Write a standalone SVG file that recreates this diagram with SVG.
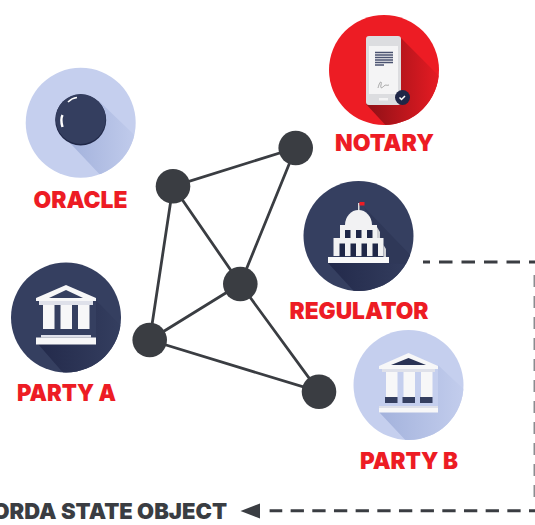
<svg xmlns="http://www.w3.org/2000/svg" width="535" height="525" viewBox="0 0 535 525">
<style>
.lbl{font-family:"Inter","Liberation Sans",sans-serif;font-weight:900;font-size:23px;fill:#ed1c24;text-anchor:middle}
.edge{stroke:#3a3d42;stroke-width:2.800;fill:none}
.dot{fill:#3a3d42}
.dh{stroke:#3a3d42;stroke-width:3;fill:none}
.dv{stroke:#8a8c90;stroke-width:3;fill:none;stroke-dasharray:12 9}
.wh{fill:#f7f7f8}
</style>
<defs>
<linearGradient id="sR" x1="0" y1="0" x2="1" y2="0"><stop offset="0" stop-color="#8e1016"/><stop offset="1" stop-color="#ed1c24"/></linearGradient>
<linearGradient id="sL" x1="0" y1="0" x2="1" y2="0"><stop offset="0" stop-color="#a3b2dc"/><stop offset="1" stop-color="#c5cfee"/></linearGradient>
<linearGradient id="sD" x1="0" y1="0" x2="1" y2="0"><stop offset="0" stop-color="#232a4b"/><stop offset="1" stop-color="#353f60"/></linearGradient>
<clipPath id="cN"><circle cx="384" cy="70" r="55"/></clipPath>
<clipPath id="cO"><circle cx="80.700" cy="122.700" r="55"/></clipPath>
<clipPath id="cR"><circle cx="358.500" cy="236" r="55"/></clipPath>
<clipPath id="cA"><circle cx="66" cy="317.500" r="55"/></clipPath>
<clipPath id="cB"><circle cx="408.500" cy="385" r="55"/></clipPath>
</defs>

<g id="connectors">
<path class="edge" d="M173 186.300L295.700 148M295.700 148L240.300 284M173 186.300L240.300 284M173 186.300L149.700 340M240.300 284L149.700 340M149.700 340L319 391.700M240.300 284L319 391.700"/>
<path class="dh" stroke-dasharray="13.500 9" stroke-dashoffset="6.500" d="M423 262H535"/>
<path class="dv" d="M535 275V505"/>
<path class="dh" stroke-dasharray="13.300 8.370" stroke-dashoffset="7.300" d="M535 510.700H269.600"/>
<path fill="#3a3d42" d="M240.500 511L260 503.500V518.500Z"/>
</g>

<g id="net-1"><circle class="dot" cx="173" cy="186.300" r="17.300"/></g>
<g id="net-2"><circle class="dot" cx="295.700" cy="148" r="17.300"/></g>
<g id="net-3"><circle class="dot" cx="240.300" cy="284" r="17.300"/></g>
<g id="net-4"><circle class="dot" cx="149.700" cy="340" r="17.300"/></g>
<g id="net-5"><circle class="dot" cx="319" cy="391.700" r="17.300"/></g>

<g id="notary">
<circle cx="384" cy="70" r="55" fill="#ed1c24"/>
<path clip-path="url(#cN)" fill="url(#sR)" d="M401 38L445 82V130H390L366 104Z"/>
<rect x="366" y="36" width="35" height="69" rx="3" fill="#dcdde0"/>
<rect x="369" y="46" width="29" height="48" fill="#f4f4f5"/>
<path stroke="#4a5270" stroke-width="1.400" fill="none" d="M375 52.500H393M375 55H393M375 57.500H393M375 60H393M375 62.500H393M375 65H384"/>
<path d="M378 88c2-8 4-7 3-3s1 3 3 1 2 0 5-1" fill="none" stroke="#777" stroke-width=".6"/>
<rect x="379" y="98" width="9" height="2.500" fill="#f4f4f5"/>
<circle cx="402.500" cy="97.500" r="7.500" fill="#1f2747"/>
<path d="M399.500 97.500l2 2 3.500-3.500" fill="none" stroke="#fff" stroke-width="1.500"/>
<text class="lbl" x="384.500" y="151" textLength="99" lengthAdjust="spacingAndGlyphs">NOTARY</text>
</g>

<g id="oracle">
<circle cx="80.700" cy="122.700" r="55" fill="#c5cfee"/>
<path clip-path="url(#cO)" fill="url(#sL)" d="M100 102L145 145V180H105L70 143Z"/>
<circle cx="80.700" cy="120" r="25.500" fill="#1f2747"/>
<circle cx="80.700" cy="119" r="25" fill="#343e5f"/>
<path d="M62.500 127c-1.500-5-1.500-9 0-12" fill="none" stroke="#fff" stroke-width="2.400"/>
<path d="M68 102c2.500-2.500 5-4 9-4.500" fill="none" stroke="#fff" stroke-width="1.600"/>
<text class="lbl" x="80.500" y="208" textLength="94" lengthAdjust="spacingAndGlyphs">ORACLE</text>
</g>

<g id="regulator">
<circle cx="358.500" cy="236" r="55" fill="#353f60"/>
<path clip-path="url(#cR)" fill="url(#sD)" d="M389 263H328L362 300H420V263Z"/>
<path clip-path="url(#cR)" fill="#2f3858" d="M364 207L420 265L389 263L380 235Z"/>
<rect x="358" y="203" width="1.500" height="8" fill="#ddd"/>
<rect x="359.500" y="202" width="5" height="3.500" fill="#ed1c24"/>
<path d="M345 225a13.500 15 0 0 1 27 0Z" fill="#f2f2f3"/>
<rect x="340" y="225" width="37" height="13" fill="#f2f2f3"/>
<rect x="333.500" y="238" width="50" height="18" fill="#f2f2f3"/>
<rect x="328" y="257" width="61" height="6" fill="#fafafa"/>
<path fill="#cfd0d4" d="M377 227L380 232V238H377ZM383.500 245L386 249V257H383.500Z"/>
<g fill="#1f2747"><rect x="345" y="230" width="5.500" height="8"/><rect x="356" y="230" width="5.500" height="8"/><rect x="367" y="230" width="5.500" height="8"/>
<rect x="339.500" y="243.500" width="5.500" height="13"/><rect x="350.500" y="243.500" width="5.500" height="13"/><rect x="361.500" y="243.500" width="5.500" height="13"/><rect x="372.500" y="243.500" width="5.500" height="13"/></g>
<text class="lbl" x="359" y="319" textLength="139" lengthAdjust="spacingAndGlyphs">REGULATOR</text>
</g>

<g id="party-a">
<circle cx="66" cy="317.500" r="55" fill="#353f60"/>
<path clip-path="url(#cA)" fill="url(#sD)" d="M38 344L96 344V300L125 330V375H65Z"/>
<path class="wh" d="M66 285L96 298V301H36V298ZM66 290L49 298H83Z" fill-rule="evenodd"/>
<rect x="39" y="301" width="54" height="4" fill="#dfe1ea"/>
<rect class="wh" x="43" y="305" width="11.500" height="24"/>
<rect class="wh" x="60.500" y="305" width="11.500" height="24"/>
<rect class="wh" x="78" y="305" width="11.500" height="24"/>
<rect x="41" y="335" width="50" height="2.500" fill="#dfe1ea"/>
<rect class="wh" x="36" y="337.500" width="60" height="7"/>
<text class="lbl" x="66.500" y="401" textLength="99" lengthAdjust="spacingAndGlyphs">PARTY A</text>
</g>

<g id="party-b">
<circle cx="408.500" cy="385" r="55" fill="#c5cfee"/>
<path clip-path="url(#cB)" fill="url(#sL)" d="M379 412H438V365L470 395V445H410Z"/>
<path class="wh" d="M408.500 353L438 366V369H379V366Z"/>
<path fill="#2a3355" d="M408.500 358L391 365H426Z"/>
<rect x="382" y="369" width="53" height="3" fill="#dfe1ea"/>
<rect class="wh" x="386" y="372" width="11.500" height="25"/>
<rect class="wh" x="403.500" y="372" width="11.500" height="25"/>
<rect class="wh" x="421" y="372" width="11.500" height="25"/>
<g fill="#353f60"><rect x="385" y="397" width="12.500" height="6"/><rect x="402.500" y="397" width="12.500" height="6"/><rect x="420" y="397" width="12.500" height="6"/></g>
<rect x="379" y="406" width="59" height="2" fill="#dfe1ea"/>
<rect class="wh" x="379" y="408" width="59" height="4.500"/>
<text class="lbl" x="409" y="469" textLength="98" lengthAdjust="spacingAndGlyphs">PARTY B</text>
</g>

<g id="state-object">
<text x="227" y="518.500" text-anchor="end" style="font-family:Inter,'Liberation Sans',sans-serif;font-weight:900;font-size:22px;fill:#3a3d42">CORDA STATE OBJECT</text>
</g>
</svg>
